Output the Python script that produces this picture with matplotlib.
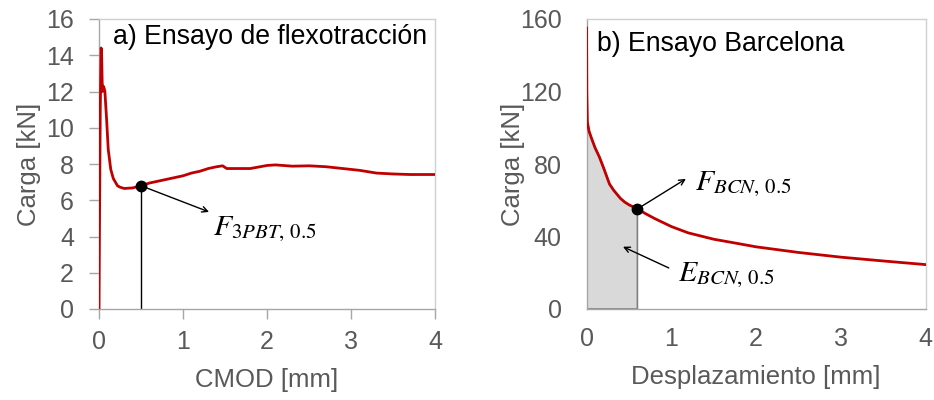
import matplotlib
matplotlib.use('Agg')
import matplotlib.pyplot as plt
import numpy as np

plt.rcParams['font.family'] = ['Liberation Sans', 'DejaVu Sans']
plt.rcParams['mathtext.fontset'] = 'stix'

# a) Ensayo de flexotraccion: CMOD [mm] vs carga [kN]
cmod = [0.0, 0.005, 0.015, 0.025, 0.03, 0.04, 0.05, 0.06, 0.07, 0.09, 0.11, 0.14, 0.17, 0.22, 0.25,
        0.3, 0.4, 0.5, 0.6, 0.7, 0.8, 0.9, 1.0, 1.1, 1.2, 1.3, 1.4, 1.47, 1.52, 1.6, 1.8,
        2.0, 2.1, 2.3, 2.5, 2.7, 2.9, 3.1, 3.3, 3.5, 3.7, 4.0]
carga_a = [0.0, 4.0, 11.0, 14.4, 14.3, 12.0, 12.3, 12.2, 12.0, 10.5, 8.8, 7.7, 7.2, 6.8, 6.72,
           6.65, 6.68, 6.8, 6.95, 7.05, 7.15, 7.25, 7.35, 7.5, 7.6, 7.75, 7.85, 7.9, 7.75, 7.75, 7.75,
           7.92, 7.95, 7.88, 7.9, 7.85, 7.75, 7.65, 7.5, 7.45, 7.42, 7.42]
cmod_05 = 0.5
f_3pbt = 6.8

# b) Ensayo Barcelona: desplazamiento [mm] vs carga [kN]
desp = [0.0, 0.003, 0.01, 0.03, 0.06, 0.1, 0.15, 0.2, 0.27, 0.32, 0.4, 0.45, 0.5, 0.6, 0.7, 0.8,
        1.0, 1.2, 1.5, 1.8, 2.0, 2.5, 3.0, 3.5, 4.0]
carga_b = [155.0, 120.0, 103.0, 98.0, 94.0, 89.0, 84.0, 78.0, 69.0, 65.5, 61.0, 59.0, 57.5, 55.2, 52.5, 50.0,
           45.5, 42.0, 38.5, 36.0, 34.3, 31.2, 28.6, 26.5, 24.5]
desp_05 = 0.6
f_bcn = 55.2

gris = '#595959'
rojo = '#c00000'

fig = plt.figure(figsize=(9.34, 4.0), dpi=100)
ax1 = fig.add_axes([0.106, 0.2275, 0.36, 0.725])
ax2 = fig.add_axes([0.628, 0.2275, 0.363, 0.725])


def estilo(ax):
    for s in ax.spines.values():
        s.set_color('#d0d0d0')
        s.set_linewidth(1.0)
    ax.spines['bottom'].set_color('#a6a6a6')
    ax.spines['left'].set_color('#a6a6a6')
    ax.tick_params(labelcolor=gris, labelsize=18)
    ax.set_xlim(0, 4)
    ax.set_xticks([0, 1, 2, 3, 4])


# panel a
estilo(ax1)
ax1.tick_params(direction='out', length=7, width=1, color='#a6a6a6')
ax1.tick_params(axis='x', pad=8)
ax1.tick_params(axis='y', pad=11)
ax1.plot(cmod, carga_a, color=rojo, lw=2.0, zorder=3)
ax1.plot([cmod_05, cmod_05], [0, f_3pbt], color='black', lw=1.0, zorder=2)
ax1.plot(cmod_05, f_3pbt, 'o', color='black', ms=7.5, zorder=4)
ax1.annotate('', xy=(1.34, 5.3), xytext=(cmod_05, f_3pbt),
             arrowprops=dict(arrowstyle='->', color='black', lw=1.0))
ax1.text(1.36, 4.4, r'$F_{3PBT,\,\mathrm{0.5}}$', fontsize=21.5, va='center', ha='left')
ax1.text(0.17, 15.0, 'a) Ensayo de flexotracción', fontsize=19.2, va='center', ha='left')
ax1.set_ylim(0, 16)
ax1.set_yticks(range(0, 17, 2))
ax1.set_xlabel('CMOD [mm]', fontsize=18.5, color=gris, labelpad=10)
ax1.set_ylabel('Carga [kN]', fontsize=18.5, color=gris, labelpad=4)

# panel b
estilo(ax2)
ax2.tick_params(length=0)
ax2.tick_params(axis='x', pad=13)
ax2.tick_params(axis='y', pad=18)
mask = [d <= desp_05 for d in desp]
xs = [0.0] + [d for d, m in zip(desp, mask) if m and d >= 0.01] + [desp_05, desp_05]
ys = [103.0] + [c for d, c, m in zip(desp, carga_b, mask) if m and d >= 0.01] + [f_bcn, 0.0]
ax2.fill(xs + [0.0], ys + [0.0], facecolor='#d9d9d9', edgecolor='#7f7f7f', lw=1.2, zorder=2)
ax2.plot(desp, carga_b, color=rojo, lw=2.0, zorder=3)
ax2.plot(desp_05, f_bcn, 'o', color='black', ms=7.5, zorder=4)
ax2.annotate('', xy=(1.2, 72.6), xytext=(desp_05, f_bcn),
             arrowprops=dict(arrowstyle='->', color='black', lw=1.0))
ax2.text(1.28, 69.0, r'$F_{BCN,\,\mathrm{0.5}}$', fontsize=21.5, va='center', ha='left')
ax2.annotate('', xy=(0.4, 35.0), xytext=(1.0, 22.0),
             arrowprops=dict(arrowstyle='->', color='black', lw=1.0))
ax2.text(1.08, 18.4, r'$E_{BCN,\,\mathrm{0.5}}$', fontsize=21.5, va='center', ha='left')
ax2.text(0.12, 146, 'b) Ensayo Barcelona', fontsize=19.2, va='center', ha='left')
ax2.set_ylim(0, 160)
ax2.set_yticks(range(0, 161, 40))
ax2.set_xlabel('Desplazamiento [mm]', fontsize=18.5, color=gris, labelpad=10)
ax2.set_ylabel('Carga [kN]', fontsize=18.5, color=gris, labelpad=-4)

fig.savefig('out.png', dpi=100)
